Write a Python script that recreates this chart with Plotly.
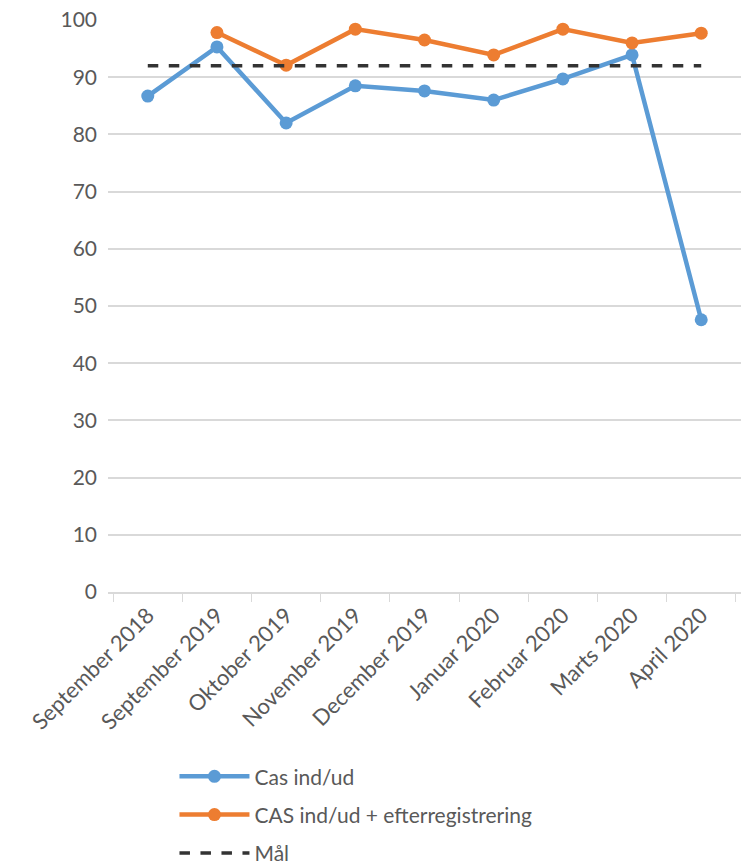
import plotly.graph_objects as go

categories = ["September 2018", "September 2019", "Oktober 2019", "November 2019",
              "December 2019", "Januar 2020", "Februar 2020", "Marts 2020", "April 2020"]
cas = [86.7, 95.3, 82.0, 88.5, 87.6, 86.0, 89.7, 93.9, 47.6]
cas_efter = [None, 97.8, 92.1, 98.4, 96.5, 93.9, 98.4, 96.0, 97.7]
maal = [92] * len(categories)
y_ticks = list(range(0, 101, 10))

font_family = "Lato, 'Open Sans', sans-serif"
txt_color = "#595959"

fig = go.Figure()
fig.add_trace(go.Scatter(x=categories, y=cas, name="Cas ind/ud", mode="lines+markers",
                         legendgroup="a",
                         line=dict(color="#5B9BD5", width=4.5),
                         marker=dict(color="#5B9BD5", size=13)))
fig.add_trace(go.Scatter(x=categories, y=cas_efter, name="CAS ind/ud + efterregistrering",
                         mode="lines+markers", legendgroup="b",
                         line=dict(color="#ED7D31", width=4.5),
                         marker=dict(color="#ED7D31", size=13)))
fig.add_trace(go.Scatter(x=categories, y=maal, name="Mål", mode="lines", legendgroup="c",
                         line=dict(color="#333333", width=3.5, dash="dash")))

fig.update_layout(
    width=748, height=866,
    margin=dict(l=108, r=7, t=20, b=274, autoexpand=False),
    paper_bgcolor="white", plot_bgcolor="white",
    font=dict(family=font_family, size=21, color=txt_color),
    showlegend=True,
    legend=dict(orientation="v", x=0.105, xanchor="left", y=-0.287, yanchor="top",
                font=dict(size=21, color=txt_color), itemwidth=70,
                tracegroupgap=8, bgcolor="rgba(0,0,0,0)"),
    xaxis=dict(type="category", tickson="boundaries", ticks="outside", ticklen=8,
               tickcolor="#D9D9D9", showline=True, linecolor="#D9D9D9", linewidth=1.5,
               showgrid=False, tickangle=-45, automargin=False,
               tickfont=dict(size=22, color=txt_color)),
    yaxis=dict(range=[0, 100], tickvals=y_ticks, showgrid=True, gridcolor="#D9D9D9",
               gridwidth=1.5, zeroline=False, showline=False, ticks="", automargin=False,
               tickfont=dict(size=21, color=txt_color), ticklabelstandoff=10),
)

fig.write_html("out.html")
